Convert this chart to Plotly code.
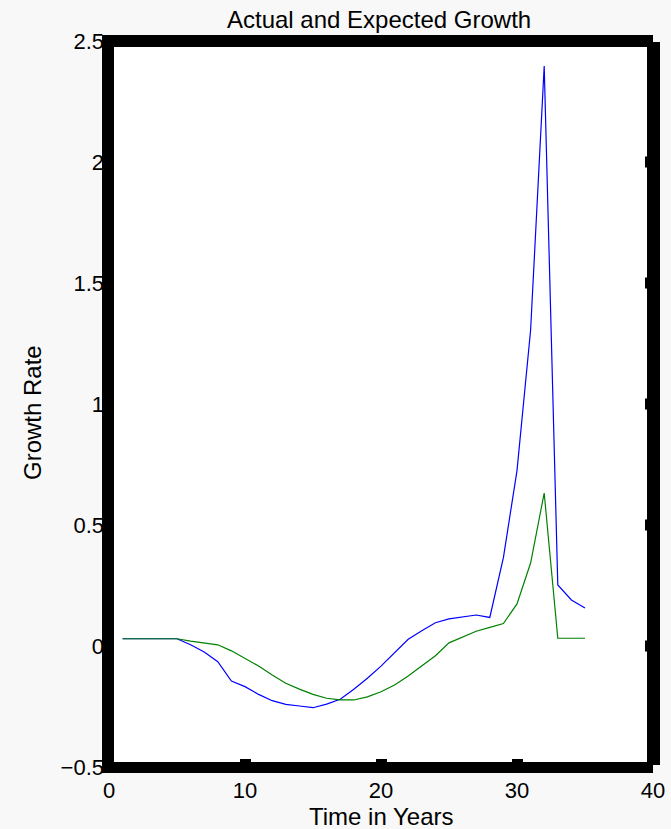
import plotly.graph_objects as go

# ---- data ----
years = list(range(1, 36))
actual = [0.03, 0.03, 0.03, 0.03, 0.03, 0.005, -0.025, -0.065, -0.145, -0.168,
          -0.2, -0.226, -0.241, -0.248, -0.255, -0.24, -0.22, -0.179, -0.133, -0.083,
          -0.028, 0.028, 0.063, 0.096, 0.112, 0.12, 0.128, 0.118, 0.365, 0.725,
          1.305, 2.397, 0.252, 0.19, 0.157]
expected = [0.03, 0.03, 0.03, 0.03, 0.03, 0.02, 0.013, 0.005, -0.02, -0.051,
            -0.083, -0.12, -0.154, -0.178, -0.2, -0.216, -0.223, -0.223, -0.21, -0.189,
            -0.161, -0.124, -0.082, -0.04, 0.013, 0.038, 0.061, 0.077, 0.093, 0.174,
            0.343, 0.632, 0.032, 0.032, 0.032]
x_ticks = [0, 10, 20, 30, 40]
y_ticks = [-0.5, 0, 0.5, 1, 1.5, 2, 2.5]
y_ticktext = ["\u22120.5", "0", "0.5", "1", "1.5", "2", "2.5"]
title_text = "Actual and Expected Growth"
x_label = "Time in Years"
y_label = "Growth Rate"

W, H = 671, 829
L, R, T, B = 109, 653, 41, 767  # plot area in pixels


def px(xp):
    return (xp - L) / (R - L)


def py(yp):
    return (B - yp) / (B - T)


FONT = "Liberation Sans, Arial, Helvetica, sans-serif"

fig = go.Figure()
fig.add_trace(go.Scatter(x=years, y=actual, mode="lines",
                         line=dict(color="#0000ff", width=1.2), name="Actual"))
fig.add_trace(go.Scatter(x=years, y=expected, mode="lines",
                         line=dict(color="#008000", width=1.2), name="Expected"))

# frame
frame = [(102, 35, 653, 47), (102, 35, 114, 773), (102, 762, 653, 773), (647, 42, 660, 765)]
shapes = []
for x0, y0, x1, y1 in frame:
    shapes.append(dict(type="rect", xref="paper", yref="paper",
                       x0=px(x0), x1=px(x1), y0=py(y1), y1=py(y0),
                       fillcolor="black", line=dict(width=0), layer="above"))
# right-side tick marks
half = 5.5 / (B - T) * 3.0  # half tick width in data units
for v in y_ticks[1:-1]:
    shapes.append(dict(type="rect", xref="paper", yref="y",
                       x0=px(645), x1=px(653), y0=v - half, y1=v + half,
                       fillcolor="black", line=dict(width=0), layer="above"))

annotations = [
    dict(text=title_text, x=px(379), y=py(19), xref="paper", yref="paper",
         showarrow=False, xanchor="center", yanchor="middle",
         font=dict(family=FONT, size=24, color="black")),
    dict(text=x_label, x=px(381), y=py(816), xref="paper", yref="paper",
         showarrow=False, xanchor="center", yanchor="middle",
         font=dict(family=FONT, size=24, color="black")),
    dict(text=y_label, x=px(32), y=py(413), xref="paper", yref="paper",
         showarrow=False, xanchor="center", yanchor="middle", textangle=-90,
         font=dict(family=FONT, size=24, color="black")),
]

fig.update_layout(
    width=W, height=H,
    margin=dict(l=L, r=W - R, t=T, b=H - B, pad=0),
    paper_bgcolor="#f8f8f8", plot_bgcolor="white",
    showlegend=False,
    shapes=shapes, annotations=annotations,
    xaxis=dict(range=[0, 40], tickvals=x_ticks, ticks="inside", ticklen=8, tickwidth=11,
               tickcolor="black", showgrid=False, zeroline=False,
               showline=False, automargin=False,
               tickfont=dict(family=FONT, size=22, color="black"), ticklabelstandoff=8),
    yaxis=dict(range=[-0.5, 2.5], tickvals=y_ticks, ticktext=y_ticktext, ticks="",
               showgrid=False, zeroline=False, showline=False, automargin=False,
               tickfont=dict(family=FONT, size=22, color="black"), ticklabelstandoff=4),
)

fig.write_html("out.html")
